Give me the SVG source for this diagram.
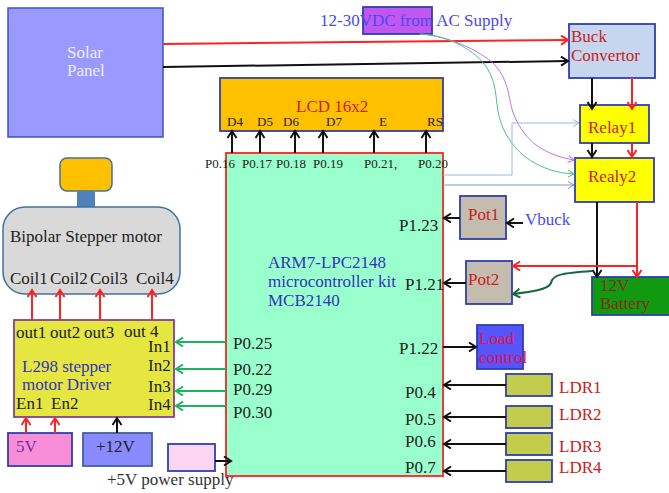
<svg xmlns="http://www.w3.org/2000/svg" width="669" height="493" viewBox="0 0 669 493">
<defs>
<marker id="ak" markerUnits="userSpaceOnUse" markerWidth="12" markerHeight="12" refX="9" refY="5" orient="auto"><path d="M2 0.5L9 5L2 9.500" fill="none" stroke="#111" stroke-width="2"/></marker>
<marker id="ar" markerUnits="userSpaceOnUse" markerWidth="12" markerHeight="12" refX="9" refY="5" orient="auto"><path d="M2 0.5L9 5L2 9.500" fill="none" stroke="#f22" stroke-width="2"/></marker>
<marker id="ag" markerUnits="userSpaceOnUse" markerWidth="12" markerHeight="12" refX="9" refY="5" orient="auto"><path d="M2 0.5L9 5L2 9.500" fill="none" stroke="#1cb45c" stroke-width="2"/></marker>
<marker id="adg" markerUnits="userSpaceOnUse" markerWidth="12" markerHeight="12" refX="9" refY="5" orient="auto"><path d="M2 0.5L9 5L2 9.500" fill="none" stroke="#17663c" stroke-width="2"/></marker>
<marker id="ap" markerUnits="userSpaceOnUse" markerWidth="10" markerHeight="10" refX="7" refY="4" orient="auto"><path d="M1 0.5L7 4L1 7.500" fill="none" stroke="#c070ee" stroke-width="1"/></marker>
<marker id="alg" markerUnits="userSpaceOnUse" markerWidth="10" markerHeight="10" refX="7" refY="4" orient="auto"><path d="M1 0.5L7 4L1 7.500" fill="none" stroke="#50c088" stroke-width="1"/></marker>
<marker id="ab" markerUnits="userSpaceOnUse" markerWidth="10" markerHeight="10" refX="7" refY="4" orient="auto"><path d="M1 0.5L7 4L1 7.500" fill="none" stroke="#9db8dc" stroke-width="1"/></marker>
<marker id="ab2" markerUnits="userSpaceOnUse" markerWidth="10" markerHeight="10" refX="7" refY="4" orient="auto"><path d="M1 0.5L7 4L1 7.500" fill="none" stroke="#7a9bd0" stroke-width="1"/></marker>
</defs>
<style>
text{font-family:"Liberation Serif","Times New Roman",serif;font-size:17px;fill:#222}
text.s{font-size:13px}
text.red{fill:#cc2020}text.blue{fill:#3333bb}text.lb{fill:#4a4aee}
.b{stroke:#2f3fb0;stroke-width:1.800}
.k{fill:none;stroke:#111;stroke-width:2;marker-end:url(#ak)}
.r{fill:none;stroke:#f22;stroke-width:2;marker-end:url(#ar)}
.g{fill:none;stroke:#1cb45c;stroke-width:2;marker-end:url(#ag)}
</style>
<g id="solar"><rect x="8" y="8" width="155" height="129" fill="#9999ff" stroke="#3d55b8" stroke-width="1.500"/><text x="67" y="58" style="fill:#eeeeff">Solar</text><text x="67" y="76" style="fill:#eeeeff">Panel</text></g>
<g id="ac"><rect x="363" y="7" width="69" height="27" fill="#c058f0" class="b"/><text x="320" y="26" class="lb">12-30VDC from AC Supply</text></g>
<g id="buck"><rect x="569" y="24" width="86" height="54" fill="#c6d6ee" class="b"/><text x="571" y="42" class="red">Buck</text><text x="571" y="61" class="red">Convertor</text></g>
<g id="relay1"><rect x="580" y="105" width="69" height="38" fill="#ffff00" class="b"/><text x="588" y="133" class="red">Relay1</text></g>
<g id="relay2"><rect x="575" y="158" width="79" height="44" fill="#ffff00" class="b"/><text x="588" y="182" class="red">Realy2</text></g>
<g id="lcd"><rect x="220" y="78" width="223" height="53" fill="#ffc000" class="b"/><text x="296" y="112" class="red">LCD 16x2</text>
<text x="227" y="126" class="s">D4</text><text x="257" y="126" class="s">D5</text><text x="283" y="126" class="s">D6</text><text x="326" y="126" class="s">D7</text><text x="379" y="126" class="s">E</text><text x="427" y="126" class="s">RS</text></g>
<g id="mcu"><rect x="226" y="153" width="217" height="323" fill="#99ffcc" stroke="#f22" stroke-width="1.800"/>
<text x="205" y="168" class="s">P0.16</text><text x="242" y="168" class="s">P0.17</text><text x="276" y="168" class="s">P0.18</text><text x="313" y="168" class="s">P0.19</text><text x="364" y="168" class="s">P0.21,</text><text x="418" y="168" class="s">P0.20</text>
<text x="268" y="268" class="blue">ARM7-LPC2148</text><text x="268" y="287" class="blue">microcontroller kit</text><text x="268" y="306" class="blue">MCB2140</text>
<text x="233" y="349">P0.25</text><text x="233" y="375">P0.22</text><text x="233" y="395">P0.29</text><text x="233" y="418">P0.30</text>
<text x="399" y="231">P1.23</text><text x="405" y="290">P1.21</text><text x="399" y="354">P1.22</text><text x="405" y="398">P0.4</text><text x="405" y="425">P0.5</text><text x="405" y="447">P0.6</text><text x="405" y="473">P0.7</text></g>
<g id="pot1"><rect x="460" y="196" width="46" height="43" fill="#c4bcae" class="b"/><text x="468" y="220" class="red">Pot1</text></g>
<text id="vbuck" x="525" y="225" class="lb">Vbuck</text>
<g id="pot2"><rect x="466" y="261" width="46" height="43" fill="#c4bcae" class="b"/><text x="468" y="285" class="red">Pot2</text></g>
<g id="battery"><rect x="592" y="277" width="78" height="38" fill="#119911" class="b"/><text x="600" y="291" style="fill:#8a2a10">12V</text><text x="600" y="309" style="fill:#8a2a10">Battery</text></g>
<g id="load"><rect x="477" y="325" width="46" height="44" fill="#5555ff" class="b"/><text x="479" y="344" style="fill:#e8103c">Load</text><text x="479" y="363" style="fill:#e8103c">control</text></g>
<g id="ldr1"><rect x="506" y="374" width="46" height="22" fill="#c4cc4c" class="b"/><text x="559" y="393" class="red">LDR1</text></g>
<g id="ldr2"><rect x="506" y="406" width="46" height="22" fill="#c4cc4c" class="b"/><text x="559" y="420" class="red">LDR2</text></g>
<g id="ldr3"><rect x="506" y="433" width="46" height="22" fill="#c4cc4c" class="b"/><text x="559" y="452" class="red">LDR3</text></g>
<g id="ldr4"><rect x="506" y="460" width="46" height="22" fill="#c4cc4c" class="b"/><text x="559" y="473" class="red">LDR4</text></g>
<g id="motor"><rect x="60" y="158" width="52" height="33" rx="7" fill="#ffc000" stroke="#41719c" stroke-width="1.500"/><rect x="77" y="191" width="18" height="16" fill="#4f81bd"/><rect x="3" y="207" width="177" height="87" rx="22" fill="#d9d9d9" stroke="#41719c" stroke-width="1.500"/><text x="10" y="242">Bipolar Stepper motor</text><text x="10" y="284">Coil1</text><text x="50" y="284">Coil2</text><text x="90" y="284">Coil3</text><text x="136" y="284">Coil4</text></g>
<g id="driver"><rect x="14" y="320" width="160" height="97" fill="#e6e640" stroke="#8040a0" stroke-width="1.800"/><text x="16" y="338">out1</text><text x="50" y="338">out2</text><text x="84" y="338">out3</text><text x="124" y="337">out 4</text><text x="148" y="352">In1</text><text x="148" y="371">In2</text><text x="148" y="392">In3</text><text x="148" y="410">In4</text><text x="22" y="372" class="blue">L298 stepper</text><text x="22" y="390" class="blue">motor Driver</text><text x="16" y="409">En1</text><text x="51" y="409">En2</text></g>
<g id="v5"><rect x="8" y="433" width="64" height="33" fill="#f98ed8" class="b"/><text x="16" y="452" style="fill:#7030a0">5V</text></g>
<g id="v12"><rect x="83" y="433" width="69" height="33" fill="#8a8aff" stroke="#41609c" stroke-width="1.800"/><text x="96" y="452">+12V</text></g>
<g id="psu"><rect x="168" y="444" width="47" height="27" fill="#fbd5f2" class="b"/><text x="107" y="485" style="fill:#333">+5V power supply</text></g>
<g id="connectors">
<path class="r" d="M163 44L568 40"/>
<path class="k" d="M163 67L568 61"/>
<path d="M420 34C445 35 480 50 495 65C510 82 508 100 514 115C525 142 545 155 574 160" fill="none" stroke="#c070ee" stroke-width="1" marker-end="url(#ap)"/>
<path d="M420 34C450 36 475 50 487 68C500 88 493 105 503 128C515 155 540 172 574 174" fill="none" stroke="#50c088" stroke-width="1" marker-end="url(#alg)"/>
<path d="M443 175H512V123H579" fill="none" stroke="#9db8dc" stroke-width="1" marker-end="url(#ab)"/>
<path d="M443 185H574" fill="none" stroke="#7a9bd0" stroke-width="1" marker-end="url(#ab2)"/>
<path class="k" d="M592 78V109"/><path class="r" d="M632 78V109"/>
<path class="k" d="M592 143V157"/><path class="r" d="M632 143V157"/>
<path class="k" d="M597 202V277"/><path class="r" d="M637 202V277"/>
<path class="r" d="M637 266H513"/>
<path d="M592 271C565 273 552 274 551 283C548 290 530 292 513 294" fill="none" stroke="#17663c" stroke-width="2" marker-end="url(#adg)"/>
<path class="k" d="M232 153V131"/><path class="k" d="M260 153V131"/><path class="k" d="M295 153V131"/><path class="k" d="M323 153V131"/><path class="k" d="M374 153V131"/><path class="k" d="M426 153V131"/>
<path class="k" d="M460 218H444"/><path class="k" d="M523 223H507"/><path class="k" d="M466 283H444"/>
<path class="k" d="M443 347H476"/>
<path class="k" d="M506 385H444"/><path class="k" d="M506 417H444"/><path class="k" d="M506 444H444"/><path class="k" d="M506 471H444"/>
<path class="k" d="M215 461H231"/>
<path class="g" d="M226 342H176"/><path class="g" d="M226 369H176"/><path class="g" d="M226 391H176"/><path class="g" d="M226 406H176"/>
<path class="r" d="M32 320V290"/><path class="r" d="M60 320V290"/><path class="r" d="M100 320V290"/><path class="r" d="M152 320V290"/>
<path class="r" d="M26 433V418"/><path class="r" d="M55 433V418"/>
<path class="k" d="M117 433V418"/>
</g>
</svg>
